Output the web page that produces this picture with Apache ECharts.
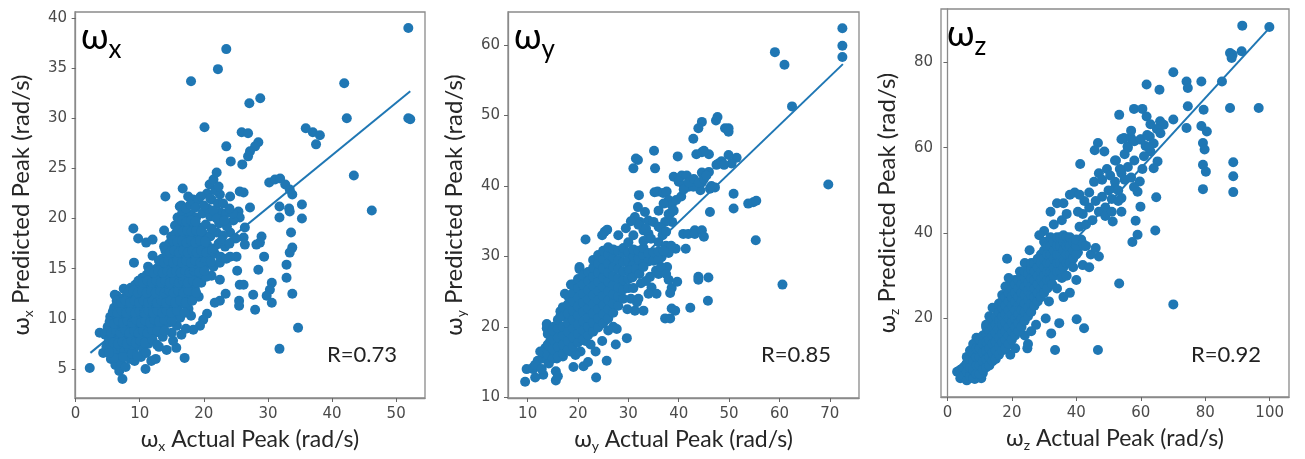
<!DOCTYPE html>
<html><head><meta charset="utf-8">
<script src="https://cdn.jsdelivr.net/npm/echarts@6/dist/echarts.min.js"></script>
<style>html,body{margin:0;padding:0;background:#fff}#c{width:1305px;height:459px}</style>
</head><body><div id="c"></div>
<script>
// ---------- DATA ----------
const axisNames = ['x', 'y', 'z'];
const rLabels = ['R=0.73', 'R=0.85', 'R=0.92'];

const wxXTicks = [0, 10, 20, 30, 40, 50];
const wxYTicks = [5, 10, 15, 20, 25, 30, 35, 40];
const wyXTicks = [10, 20, 30, 40, 50, 60, 70];
const wyYTicks = [10, 20, 30, 40, 50, 60];
const wzXTicks = [0, 20, 40, 60, 80, 100];
const wzYTicks = [20, 40, 60, 80];

const wxRange = { x: [-0.1, 54.5], y: [2.1, 40.6] };
const wyRange = { x: [6.1, 75.8], y: [9.9, 64.7] };
const wzRange = { x: [-2, 106], y: [1.6, 92.5] };

const wxFit = [[2.3, 6.6], [52.2, 32.7]];
const wyFit = [[10.2, 14.4], [72.6, 57.3]];
const wzFit = [[2.5, 7.8], [99.6, 87.8]];

const wxPoints = [
  [51.9,39.0],[51.9,30.0],[52.2,29.9],[23.5,36.9],[22.2,34.9],[18.0,33.7],[41.9,33.5],[42.3,30.0],
  [28.8,32.0],[27.1,31.5],[20.1,29.1],[25.9,28.6],[26.9,28.5],[23.5,27.2],[28.5,27.6],[28.0,27.2],
  [27.2,26.7],[26.9,26.2],[35.9,29.0],[37.0,28.6],[38.1,28.3],[37.5,27.4],[24.2,25.7],[26.0,25.4],
  [43.4,24.3],[46.2,20.8],[30.2,23.6],[31.1,23.9],[31.9,24.0],[32.7,23.4],[33.4,22.9],[33.8,22.4],
  [31.8,21.2],[33.3,21.0],[33.4,20.7],[35.3,21.4],[31.8,20.1],[35.3,20.0],[33.6,18.6],[33.8,17.1],
  [33.4,16.6],[32.9,15.4],[32.9,14.1],[33.8,12.5],[34.7,9.1],[31.8,7.0],[29.0,18.2],[28.75,17.6],
  [28.2,17.4],[29.4,16.2],[28.5,14.9],[30.6,13.6],[30.3,12.9],[29.8,12.3],[30.6,11.6],[27.7,12.4],
  [28.0,10.9],[25.6,13.4],[26.2,13.4],[25.5,11.8],[25.5,11.3],[23.4,12.5],[22.5,11.8],[21.7,11.6],
  [20.5,10.5],[19.9,9.9],[19.4,9.3],[18.35,8.9],[17.0,6.1],[15.7,7.1],[15.2,7.8],[10.9,5.0],
  [7.3,4.0],[2.2,5.1],[14.0,22.2],[9.0,19.0],[9.75,18.0],[9.1,15.6],[16.7,23.0],[17.55,22.2],
  [18.3,21.9],[19.1,21.9],[16.25,21.2],[20.9,23.4],[21.5,23.9],[22.0,24.6],[22.5,22.4],[24.1,22.2],
  [21.2,21.9],[25.6,22.7],[26.2,22.6],[27.2,21.1],[25.4,20.7],[25.6,20.1],[26.4,19.1],[26.2,18.1],
  [26.4,17.4],[24.6,19.8],[24.1,18.6],[25.1,16.2],[24.1,16.2],[25.2,14.8],[22.5,13.9],[21.2,14.3],
  [4.3,6.6],[3.75,8.6],[5.6,9.6],[6.1,12.4],[7.5,13.0],[9.3,12.8],
  [5.5,6.0],[6.2,5.4],[6.8,4.8],[7.1,5.6],[7.8,5.2],[8.5,6.0],[9.2,5.8],[6.5,6.4],[5.8,6.8],[10.2,6.2],[11.8,5.8],[12.5,6.0],
  [4.8,7.2],[5.6,7.4],[6.3,7.0],[7.0,7.2],[7.6,6.8],[8.3,7.1],[9.0,6.9],[9.8,7.4],[10.5,7.0],[11.3,7.5],[13.0,7.2],[14.2,6.9],
  [4.6,8.4],[5.3,8.0],[6.0,8.2],[6.7,7.9],[7.4,8.3],[8.1,8.0],[8.8,8.4],[9.5,8.1],[10.2,8.5],[10.9,8.0],[11.6,8.3],[12.4,8.6],[13.6,8.2],[15.0,8.6],[16.5,8.4],
  [5.0,9.2],[5.7,9.0],[6.4,9.4],[7.1,9.1],[7.8,9.5],[8.5,9.0],[9.2,9.3],[9.9,9.6],[10.6,9.1],[11.3,9.4],[12.0,9.0],[12.7,9.5],[13.4,9.2],[14.5,9.6],[15.8,9.3],[17.2,9.0],
  [5.4,10.2],[6.1,9.9],[6.8,10.3],[7.5,10.0],[8.2,10.4],[8.9,10.1],[9.6,10.5],[10.3,10.0],[11.0,10.4],[11.7,10.1],[12.4,10.6],[13.1,10.2],[13.8,10.5],[14.6,10.0],[15.4,10.4],[16.3,10.1],[18.0,10.3],
  [6.0,11.1],[6.7,11.4],[7.4,10.9],[8.1,11.3],[8.8,11.0],[9.5,11.5],[10.2,11.1],[10.9,11.4],[11.6,11.0],[12.3,11.5],[13.0,11.1],[13.7,11.4],[14.4,11.0],[15.1,11.5],[15.9,11.2],[16.8,11.5],[17.6,11.0],
  [6.4,12.3],[7.2,12.0],[8.0,12.4],[8.7,12.1],[9.4,12.5],[10.1,12.0],[10.8,12.4],[11.5,12.1],[12.2,12.5],[12.9,12.0],[13.6,12.4],[14.3,12.1],[15.0,12.5],[15.7,12.0],[16.5,12.4],[17.3,12.1],[18.4,12.6],[19.2,12.2],
  [8.6,13.1],[9.3,13.4],[10.0,13.0],[10.7,13.5],[11.4,13.1],[12.1,13.4],[12.8,13.0],[13.5,13.5],[14.2,13.1],[14.9,13.4],[15.6,13.0],[16.3,13.5],[17.0,13.1],[17.8,13.4],[18.6,13.0],[19.6,13.6],
  [10.4,14.1],[11.1,14.4],[11.8,14.0],[12.5,14.5],[13.2,14.1],[13.9,14.4],[14.6,14.0],[15.3,14.5],[16.0,14.1],[16.7,14.4],[17.4,14.0],[18.1,14.5],[18.8,14.1],[19.6,14.5],[20.4,14.2],
  [11.3,15.2],[12.6,15.0],[13.4,15.4],[14.1,15.1],[14.8,15.5],[15.5,15.0],[16.2,15.4],[16.9,15.1],[17.6,15.5],[18.3,15.0],[19.0,15.4],[19.8,15.1],[20.7,15.5],[21.5,15.2],[22.5,15.6],
  [12.0,16.3],[13.5,16.0],[14.3,16.4],[15.0,16.1],[15.7,16.5],[16.4,16.0],[17.1,16.4],[17.8,16.1],[18.5,16.5],[19.2,16.0],[20.0,16.4],[20.8,16.1],[21.7,16.5],[22.6,16.2],[23.5,16.0],
  [11.0,17.6],[13.8,17.2],[14.6,17.5],[15.3,17.0],[16.0,17.4],[16.7,17.1],[17.4,17.5],[18.1,17.0],[18.8,17.4],[19.6,17.1],[20.5,17.4],[21.4,17.0],[22.3,17.5],[23.3,17.2],
  [12.0,17.9],[14.9,18.2],[15.6,18.5],[16.3,18.1],[17.0,18.5],[17.7,18.0],[18.4,18.4],[19.1,18.1],[19.9,18.5],[21.0,18.2],[22.0,18.6],[23.0,18.3],
  [13.8,18.8],[15.5,19.3],[16.2,19.0],[16.9,19.4],[17.6,19.1],[18.3,19.5],[19.2,19.1],[20.3,19.4],[21.2,19.0],[22.4,19.5],[23.6,19.2],
  [15.9,20.1],[16.6,20.5],[17.3,20.0],[18.0,20.4],[18.8,20.1],[19.8,20.5],[21.0,20.2],[22.6,20.6],
  [16.5,21.3],[17.2,21.0],[17.9,21.4],[18.7,21.1],[20.6,21.0],[22.2,21.5],
  [6.0,6.1],[7.4,6.2],[8.8,6.5],[9.6,6.3],[11.0,6.6],[5.2,6.6],
  [5.2,7.8],[5.9,7.6],[6.6,7.5],[7.3,7.7],[8.0,7.5],[8.7,7.8],[9.4,7.6],[10.1,7.8],[10.8,7.6],[12.0,7.9],[12.7,7.4],
  [4.9,8.8],[5.6,8.6],[6.3,8.8],[7.0,8.6],[7.7,8.9],[8.4,8.6],[9.1,8.8],[9.8,8.6],[10.5,8.8],[11.2,8.6],[11.9,8.9],[12.8,8.8],[13.9,8.8],
  [5.3,9.7],[6.0,9.5],[6.7,9.8],[7.4,9.6],[8.1,9.8],[8.8,9.6],[9.5,9.9],[10.2,9.6],[10.9,9.8],[11.6,9.6],[12.3,9.9],[13.0,9.7],[13.8,9.9],[15.0,9.8],
  [5.8,10.7],[6.5,10.6],[7.2,10.8],[7.9,10.6],[8.6,10.8],[9.3,10.6],[10.0,10.8],[10.7,10.6],[11.4,10.8],[12.1,10.6],[12.8,10.8],[13.5,10.6],[14.2,10.8],[14.9,10.6],[15.8,10.8],[17.0,10.6],
  [6.4,11.8],[7.1,11.6],[7.8,11.8],[8.5,11.6],[9.2,11.8],[9.9,11.6],[10.6,11.8],[11.3,11.6],[12.0,11.8],[12.7,11.6],[13.4,11.8],[14.1,11.6],[14.8,11.8],[15.5,11.6],[16.3,11.8],[17.2,11.6],[18.2,11.8],
  [8.3,12.7],[9.0,12.8],[9.7,12.6],[10.4,12.8],[11.1,12.6],[11.8,12.8],[12.5,12.6],[13.2,12.8],[13.9,12.6],[14.6,12.8],[15.3,12.6],[16.0,12.8],[16.8,12.6],[17.6,12.8],[18.8,12.6],
  [9.8,13.8],[10.5,13.6],[11.2,13.8],[11.9,13.6],[12.6,13.8],[13.3,13.6],[14.0,13.8],[14.7,13.6],[15.4,13.8],[16.1,13.6],[16.8,13.8],[17.5,13.6],[18.3,13.8],[19.0,13.6],
  [11.5,14.8],[12.2,14.6],[12.9,14.8],[13.6,14.6],[14.3,14.8],[15.0,14.6],[15.7,14.8],[16.4,14.6],[17.1,14.8],[17.8,14.6],[18.5,14.8],[19.3,14.7],[20.1,14.8],
  [13.0,15.8],[13.8,15.6],[14.5,15.8],[15.2,15.6],[15.9,15.8],[16.6,15.6],[17.3,15.8],[18.0,15.6],[18.7,15.8],[19.5,15.6],[20.3,15.8],[21.1,15.7],
  [14.0,16.8],[14.7,16.6],[15.4,16.8],[16.1,16.6],[16.8,16.8],[17.5,16.6],[18.2,16.8],[18.9,16.6],[19.6,16.8],[20.4,16.6],[21.3,16.8],
  [15.2,17.8],[15.9,17.7],[16.6,17.8],[17.3,17.6],[18.0,17.8],[18.7,17.6],[19.4,17.8],[20.2,17.7],
  [16.0,18.8],[16.7,18.7],[17.4,18.8],[18.1,18.7],[18.8,18.8],[19.6,18.7],
  [16.6,19.8],[17.3,19.7],[18.0,19.8],[18.7,19.7],
  [20.5,22.5],[21.0,22.0],[21.8,22.8],[22.3,23.2],[23.0,21.5],[23.5,20.5],[21.5,20.8],[22.0,20.0],
  [23.2,19.8],[20.0,21.3],[19.5,22.2],[24.5,20.5],[24.0,21.0],[25.0,18.0],[22.8,17.8],[24.0,17.5]
];

const wyPoints = [
  [72.5,62.4],[72.5,59.9],[72.5,58.3],[59.1,59.0],[61.0,57.2],[62.5,51.3],[69.7,40.2],[60.6,26.0],
  [55.3,32.3],[53.8,37.5],[54.8,37.7],[55.4,37.9],[50.9,38.9],[50.9,36.8],[51.5,44.0],[50.5,43.2],
  [49.9,44.4],[49.9,48.2],[49.9,47.7],[49.2,48.2],[47.7,49.8],[47.4,49.3],[44.6,49.1],[43.9,48.2],
  [42.9,46.7],[44.6,44.8],[44.6,41.9],[44.6,40.5],[44.3,39.4],[46.2,39.6],[47.2,39.8],[47.9,43.2],
  [48.5,43.4],[46.2,36.3],[39.8,44.2],[39.0,41.3],[40.6,41.5],[41.6,41.5],[40.0,40.6],[41.0,40.1],
  [42.0,39.9],[42.9,39.9],[35.1,45.0],[35.3,42.5],[31.9,43.7],[31.0,42.5],[31.5,43.9],[32.1,38.7],[31.9,37.0],
  [35.2,39.1],[35.8,39.2],[36.9,39.0],[37.6,39.2],[38.0,38.0],[38.6,37.3],[38.3,36.1],[38.7,34.9],
  [37.3,34.9],[33.3,36.3],[34.0,35.1],[35.0,34.9],[32.3,34.9],[31.3,35.6],[33.0,33.7],[34.0,33.2],
  [36.0,34.2],[40.9,33.2],[41.9,33.2],[43.2,33.7],[43.2,33.2],[41.4,31.1],[44.6,33.7],[45.0,32.8],
  [39.4,31.1],[37.3,31.1],[36.6,29.9],[37.7,28.5],[36.0,27.5],[34.3,27.1],[34.6,25.6],[35.6,24.7],
  [34.0,24.7],[38.0,26.7],[38.6,25.5],[38.3,24.8],[39.7,26.4],[38.6,22.6],[37.3,21.2],[38.3,21.2],
  [39.3,22.3],[33.0,22.3],[31.7,23.5],[31.3,22.3],[42.3,22.7],[45.8,23.7],[45.9,27.0],[43.9,27.1],
  [43.9,26.7],[29.7,18.4],[27.7,19.7],[25.7,15.2],[23.6,12.8],[21.1,14.4],[19.1,14.3],[15.6,13.7],
  [15.6,12.4],[13.1,13.2],[9.5,12.2],[9.8,14.0],[11.5,12.8],[11.1,14.0],[21.5,32.4],[20.3,28.5],
  [18.6,26.0],[17.4,24.7],
  [13.0,15.5],[13.5,17.0],[14.0,16.2],[14.5,18.0],[15.0,17.2],[15.5,19.0],[16.0,16.8],[13.8,19.8],[13.8,20.4],[15.2,20.0],[16.2,18.2],[12.5,16.5],[12.0,15.2],[11.5,14.6],[12.8,14.0],[14.2,14.8],[15.8,15.5],[16.5,16.2],[17.0,15.8],[16.0,13.0],
  [20.5,16.5],[19.5,16.0],[18.5,16.5],[16.5,21.5],[16.5,22.2],[20.3,28.2],[22.0,15.0],[23.5,16.5],[22.5,17.5],[21.5,18.0],
  [25.3,33.5],[25.8,33.8],[24.8,33.0],[25.5,21.0],[27.0,20.0],[24.8,18.0],[27.5,17.5],[26.0,19.5],
  [14.0,16.0],[14.0,17.5],[14.0,19.0],
  [15.0,15.5],[15.0,16.8],[15.0,18.2],[15.0,19.5],
  [16.0,15.8],[16.0,17.2],[16.0,18.5],[16.0,19.8],[16.0,21.0],
  [17.0,16.2],[17.0,17.5],[17.0,18.8],[17.0,20.0],[17.0,21.5],[17.0,22.8],
  [18.0,16.8],[18.0,18.0],[18.0,19.3],[18.0,20.6],[18.0,21.9],[18.0,23.2],[18.0,24.4],
  [19.0,17.2],[19.0,18.5],[19.0,19.8],[19.0,21.0],[19.0,22.3],[19.0,23.6],[19.0,24.8],[19.0,26.0],
  [20.0,17.8],[20.0,19.0],[20.0,20.3],[20.0,21.6],[20.0,22.9],[20.0,24.2],[20.0,25.5],[20.0,26.8],
  [21.0,18.2],[21.0,19.5],[21.0,20.8],[21.0,22.1],[21.0,23.4],[21.0,24.7],[21.0,26.0],[21.0,27.3],
  [22.0,18.8],[22.0,20.0],[22.0,21.3],[22.0,22.6],[22.0,23.9],[22.0,25.2],[22.0,26.5],[22.0,27.8],
  [23.0,19.3],[23.0,20.6],[23.0,21.9],[23.0,23.2],[23.0,24.5],[23.0,25.8],[23.0,27.1],[23.0,28.4],[23.0,29.5],
  [24.0,19.9],[24.0,21.2],[24.0,22.5],[24.0,23.8],[24.0,25.1],[24.0,26.4],[24.0,27.7],[24.0,29.0],[24.0,30.2],
  [25.0,20.5],[25.0,21.8],[25.0,23.1],[25.0,24.4],[25.0,25.7],[25.0,27.0],[25.0,28.3],[25.0,29.6],[25.0,30.8],
  [26.0,21.2],[26.0,22.5],[26.0,23.8],[26.0,25.1],[26.0,26.4],[26.0,27.7],[26.0,29.0],[26.0,30.3],[26.0,31.3],
  [27.0,22.0],[27.0,23.3],[27.0,24.6],[27.0,25.9],[27.0,27.2],[27.0,28.5],[27.0,29.8],[27.0,31.0],
  [28.0,23.0],[28.0,24.3],[28.0,25.6],[28.0,26.9],[28.0,28.2],[28.0,29.5],[28.0,30.8],
  [29.0,24.0],[29.0,25.3],[29.0,26.6],[29.0,27.9],[29.0,29.2],[29.0,30.5],[29.0,31.2],
  [30.0,25.5],[30.0,26.8],[30.0,28.1],[30.0,29.4],[30.0,30.6],
  [31.0,27.5],[31.0,28.8],[31.0,30.0],[31.0,31.0],
  [32.0,28.5],[32.0,29.7],[32.0,30.8],[33.0,29.0],[33.0,30.2],[33.0,31.2],
  [34.0,29.3],[34.0,30.5],[35.0,29.4],[35.0,30.6],[36.0,29.5],[36.0,30.7],
  [30.2,28.0],[30.8,27.0],[31.5,28.2],[32.2,27.5],[33.0,28.5],[31.0,25.5],[32.5,26.2],[33.5,26.5],
  [30.5,24.0],[29.8,22.5],[32.0,24.0],[30.0,32.0],[31.0,33.0],[32.0,34.5],[33.5,34.0],[33.0,32.2],
  [34.5,32.5],[36.0,32.0],[36.8,33.0],[37.5,31.5],[38.0,30.5],[38.5,31.5],[35.5,28.0],[36.5,28.5],
  [37.5,27.5],[30.5,35.0],[29.5,34.0],[28.0,33.0],[37.0,30.8],
  [36.0,36.5],[37.0,37.5],[38.0,36.0],[39.0,36.5],[39.5,38.0],[40.5,38.5],[36.5,34.0],[37.5,33.5],
  [41.0,39.5],[42.0,40.5],[43.0,41.0],[44.0,40.5],[45.0,41.0],[46.0,42.0],[46.5,40.0],[47.5,43.0],
  [48.5,43.5],[49.0,43.0],[46.0,44.5],[45.0,45.0],[43.5,44.5],[45.5,41.5]
];

const wzPoints = [
  [99.9,88.3],[91.5,88.6],[91.3,82.6],[87.7,82.2],[88.5,81.8],[88.2,81.0],[85.2,75.5],[87.7,69.3],
  [96.6,69.3],[78.8,75.5],[74.2,75.5],[70.1,77.7],[74.6,74.0],[74.6,69.7],[74.2,64.6],[78.8,65.1],
  [79.5,68.9],[80.5,63.8],[79.3,61.1],[79.8,59.6],[79.3,56.0],[80.2,54.4],[79.3,50.3],[88.7,56.6],
  [88.7,53.3],[88.7,49.6],[70.1,23.3],[53.3,28.2],[46.7,12.6],[33.4,12.6],[42.4,17.7],[40.1,19.8],
  [34.7,18.9],[32.2,16.5],[24.8,13.0],[64.5,40.6],[64.8,48.4],[58.4,42.9],[59.0,39.6],[57.4,37.9],
  [51.3,42.7],[54.0,45.0],[65.8,73.6],[61.8,74.8],[53.3,67.7],[57.9,69.1],[60.5,69.1],[61.8,67.3],
  [70.1,66.6],[66.0,66.2],[67.1,65.4],[65.0,64.4],[66.1,63.4],[62.8,62.6],[61.5,60.4],[63.0,59.1],
  [59.9,61.9],[56.9,62.3],[54.8,62.3],[55.9,60.3],[46.7,61.1],[45.7,59.4],[52.3,57.0],[48.7,59.1],
  [41.2,56.2],[65.2,56.8],[64.0,55.2],[59.7,52.1],[59.0,49.7],[59.9,46.2],[57.9,50.8],[54.0,48.2],[52.0,50.5],
  [3.0,7.5],[10.5,6.0],[8.5,5.8],[11.0,7.2],[9.0,15.5],[12.0,18.5],[13.0,20.5],[14.0,22.5],[16.0,23.5],
  [17.0,25.5],[18.0,27.5],[19.5,11.5],[21.0,13.0],[25.0,14.0],[24.0,16.0],[26.0,17.0],[27.5,18.5],
  [30.5,20.0],[31.5,24.0],[21.0,29.0],[22.5,31.0],[24.0,33.0],[25.5,36.0],[20.0,28.5],[19.0,29.5],
  [18.5,34.0],[32.0,45.0],[34.0,47.0],[33.0,42.0],[30.0,40.5],[28.5,39.5],[35.5,43.0],[37.0,44.5],
  [38.0,49.0],[39.5,49.5],[36.0,47.0],[38.0,26.0],[40.0,29.0],[36.0,25.0],[40.5,35.5],[41.5,38.5],[42.5,37.0],
  [4.0,6.0],[4.0,8.0],
  [5.0,6.5],[5.0,8.5],[6.0,5.5],[6.0,7.5],[6.0,9.5],[6.0,11.0],
  [7.0,6.5],[7.0,8.5],[7.0,10.5],[7.0,12.5],[8.0,6.0],[8.0,8.0],[8.0,10.0],[8.0,12.0],[8.0,14.0],
  [9.0,7.0],[9.0,9.0],[9.0,11.0],[9.0,13.0],[10.0,7.0],[10.0,9.0],[10.0,11.0],[10.0,13.0],[10.0,15.0],
  [11.0,8.0],[11.0,10.0],[11.0,12.0],[11.0,14.0],[11.0,16.0],
  [12.0,8.5],[12.0,10.5],[12.0,12.5],[12.0,14.5],[12.0,16.5],[12.0,18.0],
  [13.0,9.0],[13.0,11.0],[13.0,13.0],[13.0,15.0],[13.0,17.0],[13.0,19.0],
  [14.0,10.0],[14.0,12.0],[14.0,14.0],[14.0,16.0],[14.0,18.0],[14.0,20.0],
  [15.0,10.5],[15.0,12.5],[15.0,14.5],[15.0,16.5],[15.0,18.5],[15.0,20.5],
  [16.0,11.5],[16.0,13.5],[16.0,15.5],[16.0,17.5],[16.0,19.5],[16.0,21.5],
  [17.0,12.5],[17.0,14.5],[17.0,16.5],[17.0,18.5],[17.0,20.5],[17.0,22.5],[17.0,24.0],
  [18.0,13.0],[18.0,15.0],[18.0,17.0],[18.0,19.0],[18.0,21.0],[18.0,23.0],[18.0,25.0],
  [19.0,14.0],[19.0,16.0],[19.0,18.0],[19.0,20.0],[19.0,22.0],[19.0,24.0],[19.0,26.0],
  [20.0,15.0],[20.0,17.0],[20.0,19.0],[20.0,21.0],[20.0,23.0],[20.0,25.0],[20.0,27.0],
  [21.0,16.0],[21.0,18.0],[21.0,20.0],[21.0,22.0],[21.0,24.0],[21.0,26.0],[21.0,28.0],
  [22.0,17.0],[22.0,19.0],[22.0,21.0],[22.0,23.0],[22.0,25.0],[22.0,27.0],[22.0,29.0],
  [23.0,18.0],[23.0,20.0],[23.0,22.0],[23.0,24.0],[23.0,26.0],[23.0,28.0],[23.0,30.0],
  [24.0,19.5],[24.0,21.5],[24.0,23.5],[24.0,25.5],[24.0,27.5],[24.0,29.5],[24.0,31.0],
  [25.0,20.5],[25.0,22.5],[25.0,24.5],[25.0,26.5],[25.0,28.5],[25.0,30.5],
  [26.0,21.5],[26.0,23.5],[26.0,25.5],[26.0,27.5],[26.0,29.5],[26.0,31.5],[26.0,33.0],
  [27.0,23.0],[27.0,25.0],[27.0,27.0],[27.0,29.0],[27.0,31.0],[27.0,33.0],
  [28.0,24.0],[28.0,26.0],[28.0,28.0],[28.0,30.0],[28.0,32.0],[28.0,34.0],
  [29.0,25.0],[29.0,27.0],[29.0,29.0],[29.0,31.0],[29.0,33.0],[29.0,35.0],
  [30.0,26.0],[30.0,28.0],[30.0,30.0],[30.0,32.0],[30.0,34.0],[30.0,36.0],[30.0,38.0],
  [31.0,27.0],[31.0,29.0],[31.0,31.0],[31.0,33.0],[31.0,35.0],[31.0,37.0],
  [32.0,29.0],[32.0,31.0],[32.0,33.0],[32.0,35.0],[32.0,37.0],[32.0,39.0],
  [33.0,30.0],[33.0,32.0],[33.0,34.0],[33.0,36.0],[33.0,38.0],
  [34.0,31.0],[34.0,33.0],[34.0,35.0],[34.0,37.0],[34.0,39.0],
  [35.0,31.0],[35.0,33.0],[35.0,35.0],[35.0,37.0],[35.0,39.0],
  [36.0,32.0],[36.0,34.0],[36.0,36.0],[36.0,38.0],[36.0,39.5],
  [37.0,33.0],[37.0,35.0],[37.0,37.0],[37.0,39.0],
  [38.0,33.0],[38.0,35.0],[38.0,37.0],[38.0,39.0],
  [39.0,34.0],[39.0,36.0],[39.0,38.0],[40.0,35.0],[40.0,37.0],[40.0,38.5],[42.0,37.5],
  [32.5,28.0],[34.0,27.0],[35.5,29.5],[37.0,30.0],[39.0,32.0],
  [41.0,41.5],[42.0,44.5],[43.0,42.0],[44.0,46.0],[45.0,43.0],[46.0,47.5],[47.0,45.0],[48.0,48.5],
  [49.0,46.0],[50.0,50.0],[51.0,48.0],[52.0,52.0],[53.0,50.0],[54.0,54.0],[55.0,52.5],[56.0,55.5],
  [57.0,53.0],[58.0,57.0],[44.0,49.5],[45.5,52.0],[47.0,54.0],[48.0,52.5],[49.5,55.0],[50.5,53.5],
  [52.0,57.0],[53.5,55.0],[55.0,58.5],[43.0,37.0],[44.5,35.0],[46.0,36.5],[47.0,34.5],[42.0,32.5],
  [44.0,32.0],[42.5,47.5],[41.0,49.0],[40.5,45.0],[56.0,60.0],[58.0,61.5],[60.0,62.0],[57.0,64.0],
  [54.0,62.0],[61.0,58.0],[62.0,63.0],[63.0,65.5],[64.0,61.0],[62.5,60.0],[60.5,55.0],[49.0,44.0],
  [51.0,45.0],[53.0,47.5]
];

// ---------- CHART ----------
const BLUE = '#1f77b4';
const FONT = 'Lato, "Open Sans", sans-serif';
const grids = [
  { left: 75, top: 12, width: 350, height: 386 },
  { left: 508, top: 12, width: 351, height: 386 },
  { left: 941, top: 9, width: 348, height: 388 }
];
const panels = [
  { pts: wxPoints, fit: wxFit, xt: wxXTicks, yt: wxYTicks, r: wxRange },
  { pts: wyPoints, fit: wyFit, xt: wyXTicks, yt: wyYTicks, r: wyRange },
  { pts: wzPoints, fit: wzFit, xt: wzXTicks, yt: wzYTicks, r: wzRange }
];
function nameRich(size) {
  return {
    a: { fontSize: size, lineHeight: size + 4, color: '#262626', fontFamily: FONT, verticalAlign: 'bottom', padding: [0, 0, 2, 0] },
    s: { fontSize: Math.round(size * 0.6), color: '#262626', fontFamily: FONT, verticalAlign: 'bottom' }
  };
}
function axisCommon(ticks, rng, size, margin) {
  return {
    type: 'value', min: rng[0], max: rng[1],
    splitLine: { show: false },
    axisLine: { show: true, lineStyle: { color: '#8a8a8a', width: 1.3 } },
    axisTick: { show: true, length: 4, customValues: ticks, lineStyle: { color: '#666' } },
    axisLabel: { customValues: ticks, color: '#4a4a4a', fontSize: 15, margin: margin, fontFamily: '"DejaVu Sans", sans-serif' },
    nameLocation: 'middle', nameTextStyle: { rich: nameRich(size) }
  };
}
const xAxis = [], yAxis = [], series = [], titles = [];
panels.forEach((p, i) => {
  const n = axisNames[i];
  xAxis.push(Object.assign(axisCommon(p.xt, p.r.x, 23, 9), {
    gridIndex: i, name: '{a|ω}{s|' + n + '}{a| Actual Peak (rad/s)}', nameGap: 28
  }));
  yAxis.push(Object.assign(axisCommon(p.yt, p.r.y, 24, 8), {
    gridIndex: i, name: '{a|ω}{s|' + n + '}{a| Predicted Peak (rad/s)}', nameGap: 40, nameRotate: 90
  }));
  series.push({
    type: 'scatter', xAxisIndex: i, yAxisIndex: i, data: p.pts, symbolSize: 10,
    itemStyle: { color: BLUE, opacity: 1 }, silent: true
  });
  series.push({
    type: 'line', xAxisIndex: i, yAxisIndex: i, data: p.fit, symbol: 'none',
    lineStyle: { color: BLUE, width: 2 }, silent: true, z: 3
  });
  titles.push({
    text: '{w|ω}{s|' + n + '}', left: grids[i].left + 6, top: grids[i].top + 11, padding: 0,
    textStyle: { rich: {
      w: { fontSize: 36, lineHeight: 40, color: '#000', fontWeight: 'normal', fontFamily: FONT, verticalAlign: 'bottom', padding: [0, 0, 8, 0] },
      s: { fontSize: 26, color: '#000', fontWeight: 'normal', fontFamily: FONT, verticalAlign: 'bottom' }
    } }
  });
  titles.push({
    text: rLabels[i], left: grids[i].left + grids[i].width - 98, top: 342, padding: 0,
    textStyle: { fontSize: 22, lineHeight: 26, color: '#222', fontWeight: 'normal', fontFamily: FONT }
  });
});
const chart = echarts.init(document.getElementById('c'), null, { renderer: 'canvas' });
chart.setOption({
  animation: false, backgroundColor: '#fff',
  title: titles,
  grid: grids.map(g => Object.assign({ show: true, borderColor: '#8a8a8a', borderWidth: 1.3, backgroundColor: 'transparent' }, g)),
  xAxis, yAxis, series
});
</script></body></html>
